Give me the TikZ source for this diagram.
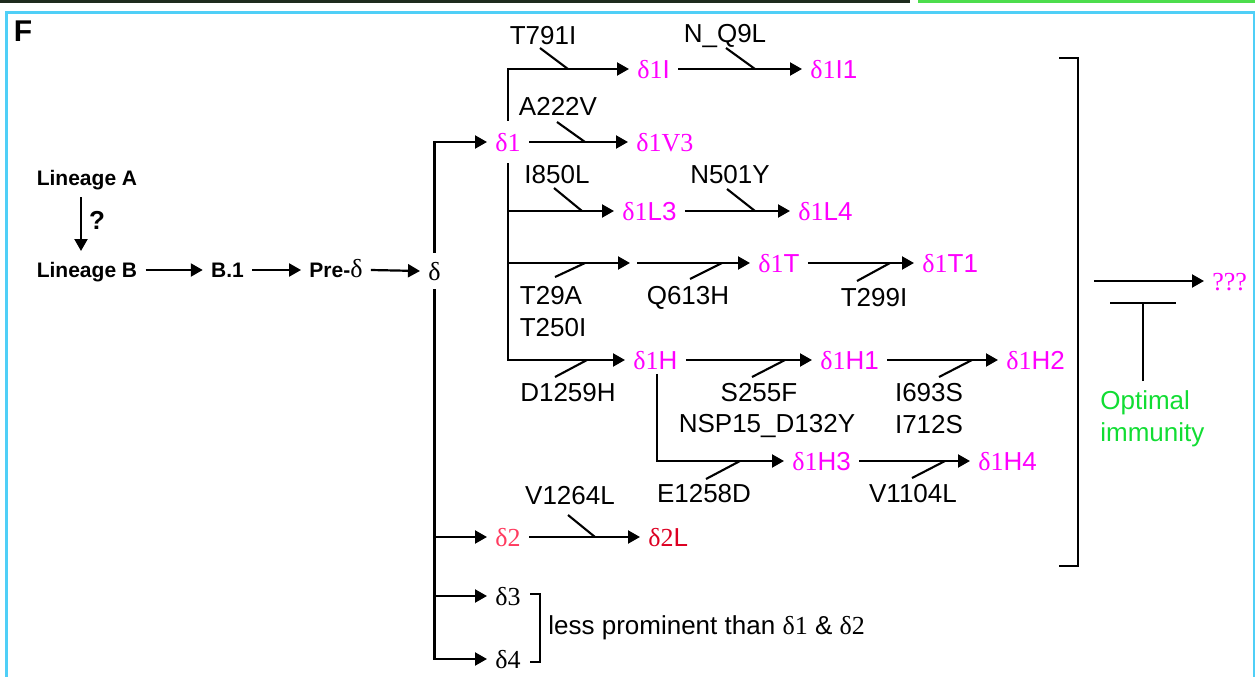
\documentclass[tikz,border=0pt]{standalone}
\usepackage{fontspec}
\setmainfont{Liberation Sans}
\newfontfamily\tms{Liberation Serif}
\usetikzlibrary{arrows.meta,calc}
\definecolor{mag}{HTML}{FF00FF}
\definecolor{dtwo}{HTML}{FF3B5F}
\definecolor{dtwoL}{HTML}{DD0022}
\definecolor{optg}{HTML}{11DD33}
\definecolor{frameb}{HTML}{4FCFF7}
\definecolor{stripdk}{HTML}{1E2B1E}
\definecolor{stripgr}{HTML}{4DDD4D}
\newcommand{\dlt}[2]{{\tms δ#1}#2}
\tikzset{
  arr/.style={-{Triangle[length=6pt,width=6.5pt]}, line width=1.1pt},
  slash/.style={line width=1.05pt},
  brk/.style={line width=1.15pt},
  lab/.style={font=\fontsize{13}{15}\selectfont, inner sep=0pt, text height=9.5pt, text depth=0pt},
  dn/.style={font=\fontsize{13}{15}\selectfont, text=mag, inner xsep=4pt, inner ysep=2pt, text height=9.5pt, text depth=0pt, anchor=west},
  bn/.style={font=\bfseries\fontsize{10.5}{12}\selectfont, inner xsep=4pt, inner ysep=5.5pt, text height=7.6pt, text depth=0pt},
}
\begin{document}
\begin{tikzpicture}[x=0.5pt,y=-0.5pt]
\useasboundingbox (0,0) rectangle (1255,676);
% top strip and frame
\fill[stripdk] (0,0) rectangle (910,2.5);
\fill[stripgr] (918,0) rectangle (1255,2.5);
\draw[frameb, line width=1.5pt] (6,680) -- (6,12) -- (1254,12) -- (1254,680);
% panel letter
\node[font=\bfseries\fontsize{15}{17}\selectfont, inner sep=0pt] (F) at (23,31) {F};
% left chain
\node[bn] (LA) at (87,178) {Lineage A};
\node[bn] (LB) at (87,270) {Lineage B};
\node[bn] (B1) at (227.5,270) {B.1};
\node[bn] (PD) at (336,270) {Pre-{\mdseries\tms\fontsize{13}{14}\selectfont δ}};
\node[font=\bfseries\fontsize{13}{15}\selectfont, inner sep=0pt] (qm) at (97,220) {?};
\node[dn, text=black, inner ysep=4.25pt] (d) at (420,271) {{\tms δ}};
\draw[arr] ([xshift=-3pt]LA.south) -- ([xshift=-3pt]LB.north);
\draw[arr] (LB.east) -- (B1.west);
\draw[arr] (B1.east) -- (PD.west);
\draw[arr] (PD.east) -- (d.west);
% delta nodes
\node[dn, inner ysep=5.75pt] (d1) at (487,142) {\dlt{1}{}};
\node[dn] (d1I) at (629,69) {\dlt{1}{I}};
\node[dn] (d1I1) at (802,69) {\dlt{1}{I1}};
\node[dn] (d1V3) at (628,142) {{\tms δ1V3}};
\node[dn] (d1L3) at (614,211) {\dlt{1}{L3}};
\node[dn] (d1L4) at (790,211) {\dlt{1}{L4}};
\node[dn] (d1T) at (750,263) {\dlt{1}{T}};
\node[dn] (d1T1) at (914,263) {\dlt{1}{T1}};
\node[dn] (d1H) at (625,360) {\dlt{1}{H}};
\node[dn] (d1H1) at (812,360) {\dlt{1}{H1}};
\node[dn] (d1H2) at (998,360) {\dlt{1}{H2}};
\node[dn] (d1H3) at (784,461) {\dlt{1}{H3}};
\node[dn] (d1H4) at (970,461) {\dlt{1}{H4}};
\node[dn, text=dtwo] (d2) at (487,537) {\dlt{2}{}};
\node[dn, text=dtwoL] (d2L) at (640,537) {\dlt{2}{L}};
\node[dn, text=black] (d3) at (487,596) {\dlt{3}{}};
\node[dn, text=black] (d4) at (487,659) {\dlt{4}{}};
\node[dn] (qqq) at (1204,281) {{\tms ???}};
% delta trunk
\draw[arr] (d.north) |- (d1.west);
\draw[arr] (d.south) |- (d4.west);
\draw[arr] (d.south |- d2.west) -- (d2.west);
\draw[arr] (d.south |- d3.west) -- (d3.west);
% delta1 branches
\draw[arr] (d1.north) |- (d1I.west);
\draw[arr] (d1I.east) -- (d1I1.west);
\draw[arr] (d1.east) -- (d1V3.west);
\draw[arr] (d1.south) |- (d1H.west);
\draw[arr] (d1.south |- d1L3.west) -- (d1L3.west);
\draw[arr] (d1L3.east) -- (d1L4.west);
\coordinate (tA) at (630,263);
\coordinate (tB) at (637,263);
\draw[arr] (d1.south |- d1T.west) -- (tA);
\draw[arr] (tB) -- (d1T.west);
\draw[arr] (d1T.east) -- (d1T1.west);
\draw[arr] (d1H.east) -- (d1H1.west);
\draw[arr] (d1H1.east) -- (d1H2.west);
\coordinate (hT) at ([xshift=16pt]d1H.south west);
\draw[arr] (hT) |- (d1H3.west);
\draw[arr] (d1H3.east) -- (d1H4.west);
\draw[arr] (d2.east) -- (d2L.west);
% mutation labels
\node[lab] (mT791I) at (543,35) {T791I};
\node[lab] (mNQ9L) at (725,33) {N\_Q9L};
\node[lab] (mA222V) at (558,106) {A222V};
\node[lab] (mI850L) at (557,174) {I850L};
\node[lab] (mN501Y) at (730,174) {N501Y};
\node[lab] (mT29A) at (551,295) {T29A};
\node[lab] (mT250I) at (553,327) {T250I};
\node[lab] (mQ613H) at (688,295) {Q613H};
\node[lab] (mT299I) at (874,297) {T299I};
\node[lab] (mD1259H) at (568,392) {D1259H};
\node[lab] (mS255F) at (759,392) {S255F};
\node[lab] (mNSP) at (767,423) {NSP15\_D132Y};
\node[lab] (mI693S) at (929,392) {I693S};
\node[lab] (mI712S) at (929,424) {I712S};
\node[lab] (mE1258D) at (704,493) {E1258D};
\node[lab] (mV1104L) at (913,493) {V1104L};
\node[lab] (mV1264L) at (570,495) {V1264L};
% slashes
\draw[slash] (540,48) -- (568,69);
\draw[slash] (726,48) -- (755,69);
\draw[slash] (557,122) -- (585,142);
\draw[slash] (554,188) -- (582,211);
\draw[slash] (727,189) -- (755,211);
\draw[slash] (555,277) -- (585,263);
\draw[slash] (690,279) -- (722,263);
\draw[slash] (857,281) -- (890,263);
\draw[slash] (555,377) -- (587,360);
\draw[slash] (752,377) -- (785,360);
\draw[slash] (939,377) -- (972,360);
\draw[slash] (706,479) -- (740,461);
\draw[slash] (912,478) -- (945,461);
\draw[slash] (568,515) -- (595,537);
% big bracket and outcome
\draw[brk] (1059,58) -- (1078,58) -- (1078,566) -- (1059,566);
\coordinate (bo) at (1094,281);
\draw[arr] (bo) -- (qqq.west);
\coordinate (tbL) at (1110,303);
\coordinate (tbR) at (1176,303);
\coordinate (tbB) at (1143,381);
\draw[brk] (tbL) -- (tbR);
\draw[brk] (tbB) -- (tbB |- tbL);
\node[lab, text=optg, anchor=west] (opt1) at (1100,400) {Optimal};
\node[lab, text=optg, anchor=west] (opt2) at (1100,432) {immunity};
% small bracket
\draw[brk] (530,594) -- (540,594) -- (540,662) -- (530,662);
\node[lab, anchor=west] (less) at (548,625) {less prominent than {\tms δ1} \& {\tms δ2}};
\end{tikzpicture}
\end{document}
